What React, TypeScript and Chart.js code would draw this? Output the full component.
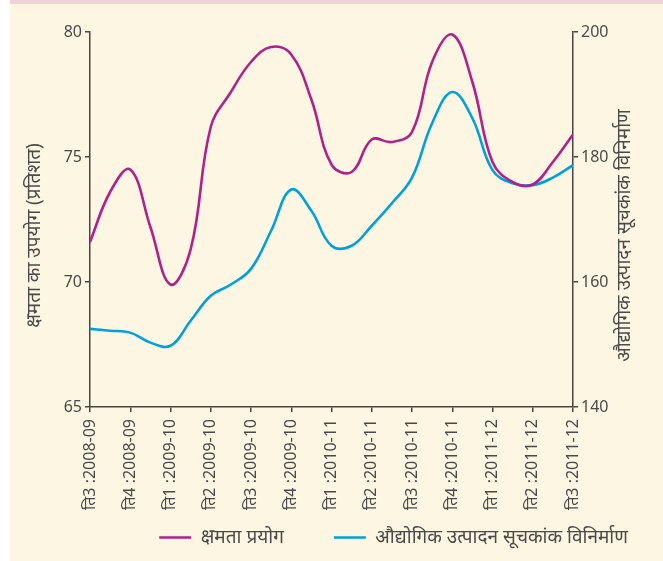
import React, { useEffect, useRef } from "react";
import { Chart, registerables } from "chart.js";

Chart.register(...registerables);

const categories = [
  "ति3 :2008-09",
  "ति4 :2008-09",
  "ति1 :2009-10",
  "ति2 :2009-10",
  "ति3 :2009-10",
  "ति4 :2009-10",
  "ति1 :2010-11",
  "ति2 :2010-11",
  "ति3 :2010-11",
  "ति4 :2010-11",
  "ति1 :2011-12",
  "ति2 :2011-12",
  "ति3 :2011-12",
];

// sample positions (in category units, half steps)
const positions = [
  0, 0.5, 1, 1.5, 2, 2.5, 3, 3.5, 4, 4.5, 5, 5.5, 6, 6.5, 7, 7.5, 8, 8.5, 9,
  9.5, 10, 10.5, 11, 11.5, 12,
];

const capacityUse = [
  71.6, 73.6, 74.5, 72.2, 69.9, 71.3, 76.2, 77.6, 78.8, 79.4, 79.1, 77.3, 74.7,
  74.4, 75.7, 75.6, 76.0, 78.8, 79.9, 78.0, 74.8, 74.0, 73.9, 74.8, 75.9,
];

const iipManufacturing = [
  152.5, 152.2, 151.9, 150.3, 149.8, 153.8, 157.8, 159.6, 162.1, 168.2, 174.8,
  171.4, 165.8, 165.8, 169.0, 172.6, 176.7, 185.4, 190.4, 186.2, 177.9, 175.8,
  175.5, 176.7, 178.7,
];

const leftTicks = [65, 70, 75, 80];
const rightTicks = [140, 160, 180, 200];

const leftTitle = "क्षमता का उपयोग (प्रतिशत)";
const rightTitle = "औद्योगिक उत्पादन सूचकांक विनिर्माण";
const seriesNames = ["क्षमता प्रयोग", "औद्योगिक उत्पादन सूचकांक विनिर्माण"];

const FONT = "'Noto Sans', 'Noto Sans Devanagari', 'DejaVu Sans', sans-serif";
const TEXT = "#4a4a4a";
const AXIS = "#4b4540";
const MAGENTA = "#B0228B";
const BLUE = "#00A0DE";

const LEGEND_H = 40;

const titlesPlugin = {
  id: "verticalTitles",
  beforeUpdate(chart: any) {
    const lg = chart.legend;
    if (lg && !lg.__patched) {
      const fit = lg.fit;
      lg.fit = function (this: any) {
        fit.call(this);
        this.height = LEGEND_H;
      };
      lg.__patched = true;
    }
  },
  afterLayout(chart: any) {
    const lg = chart.legend;
    if (lg) {
      lg.left += 15;
      lg.right += 15;
      lg.top -= 39;
    }
  },
  afterDraw(chart: any) {
    const { ctx, chartArea } = chart;
    const cy = (chartArea.top + chartArea.bottom) / 2 + 16;
    ctx.save();
    ctx.fillStyle = TEXT;
    ctx.font = `19px ${FONT}`;
    ctx.textAlign = "center";
    ctx.textBaseline = "middle";
    ctx.save();
    ctx.translate(chartArea.left - 55, cy);
    ctx.rotate(-Math.PI / 2);
    ctx.fillText(leftTitle, 0, 0);
    ctx.restore();
    ctx.save();
    ctx.translate(chartArea.right + 52, cy);
    ctx.rotate(-Math.PI / 2);
    ctx.fillText(rightTitle, 0, 0);
    ctx.restore();
    ctx.restore();
  },
};

export default function App() {
  const ref = useRef<HTMLCanvasElement | null>(null);

  useEffect(() => {
    if (!ref.current) return;
    const chart = new Chart(ref.current, {
      type: "line",
      data: {
        datasets: [
          {
            label: seriesNames[0],
            data: positions.map((x, i) => ({ x, y: capacityUse[i] })),
            borderColor: MAGENTA,
            backgroundColor: MAGENTA,
            borderWidth: 2.6,
            pointRadius: 0,
            tension: 0.4,
            yAxisID: "y",
          },
          {
            label: seriesNames[1],
            data: positions.map((x, i) => ({ x, y: iipManufacturing[i] })),
            borderColor: BLUE,
            backgroundColor: BLUE,
            borderWidth: 2.6,
            pointRadius: 0,
            tension: 0.4,
            yAxisID: "y1",
          },
        ],
      },
      plugins: [titlesPlugin],
      options: {
        responsive: false,
        animation: false,
        layout: { padding: { top: 32, bottom: 4, left: 0, right: 0 } },
        plugins: {
          legend: {
            position: "bottom",
            align: "end",
            labels: {
              usePointStyle: true,
              pointStyle: "line",
              pointStyleWidth: 32,
              boxWidth: 32,
              color: TEXT,
              font: { family: FONT, size: 19 },
              padding: 50,
            },
          },
          tooltip: { enabled: false },
        },
        scales: {
          x: {
            type: "linear",
            min: 0,
            max: categories.length - 1,
            afterBuildTicks: (scale: any) => {
              scale.ticks = categories.map((_, i) => ({ value: i }));
            },
            afterFit: (scale: any) => {
              scale.height = 110;
            },
            ticks: {
              autoSkip: false,
              minRotation: 90,
              maxRotation: 90,
              padding: 7,
              color: TEXT,
              font: { family: FONT, size: 16 },
              callback: (v: any) => categories[Number(v)] ?? "",
            },
            grid: {
              drawOnChartArea: false,
              drawTicks: true,
              tickLength: 5,
              color: AXIS,
              lineWidth: 1.5,
            },
            border: { color: AXIS, width: 1.5 },
          },
          y: {
            position: "left",
            min: 65,
            max: 80,
            afterBuildTicks: (scale: any) => {
              scale.ticks = leftTicks.map((v) => ({ value: v }));
            },
            afterFit: (scale: any) => {
              scale.width = 90;
            },
            ticks: {
              padding: 3,
              color: TEXT,
              font: { family: FONT, size: 16 },
            },
            grid: {
              drawOnChartArea: false,
              drawTicks: true,
              tickLength: 5,
              color: AXIS,
              lineWidth: 1.5,
            },
            border: { color: AXIS, width: 1.5 },
          },
          y1: {
            position: "right",
            min: 140,
            max: 200,
            afterBuildTicks: (scale: any) => {
              scale.ticks = rightTicks.map((v) => ({ value: v }));
            },
            afterFit: (scale: any) => {
              scale.width = 90;
            },
            ticks: {
              padding: 3,
              color: TEXT,
              font: { family: FONT, size: 16 },
            },
            grid: {
              drawOnChartArea: false,
              drawTicks: true,
              tickLength: 5,
              color: AXIS,
              lineWidth: 1.5,
            },
            border: { color: AXIS, width: 1.5 },
          },
        },
      },
    });
    return () => chart.destroy();
  }, []);

  return (
    <div
      style={{
        position: "fixed",
        left: 0,
        top: 0,
        width: 663,
        height: 561,
        background: "#ffffff",
      }}
    >
      <div
        style={{
          position: "absolute",
          left: 10,
          top: 0,
          right: 0,
          bottom: 0,
          background: "#FDF6E2",
        }}
      />
      <div
        style={{
          position: "absolute",
          left: 10,
          top: 0,
          right: 0,
          height: 4,
          background: "#EED4DA",
        }}
      />
      <canvas
        ref={ref}
        width={663}
        height={561}
        style={{ position: "absolute", left: 0, top: 0, width: 663, height: 561 }}
      />
    </div>
  );
}
